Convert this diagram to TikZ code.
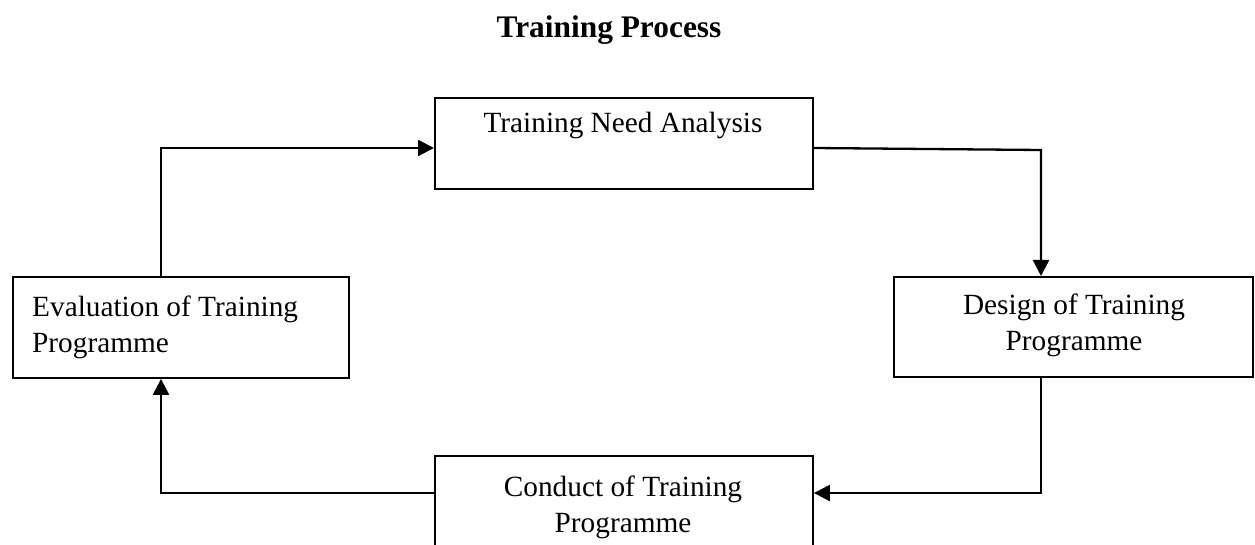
\documentclass[tikz,border=0pt]{standalone}
\usepackage{fontspec}
\setmainfont{Liberation Serif}
\usetikzlibrary{arrows.meta}
\begin{document}
\begin{tikzpicture}[x=1pt,y=-1pt,
  box/.style={draw,line width=1.9pt,inner sep=0pt,anchor=north west},
  lbl/.style={font=\fontsize{29.3}{35.5}\selectfont,inner sep=0pt,align=center,anchor=base},
  conn/.style={line width=2.3pt,line join=miter,-{Triangle[length=16pt,width=16pt]}}]
\useasboundingbox (0,0) rectangle (1255,545);
\node[font=\bfseries\fontsize{31.4}{36}\selectfont,anchor=base,inner sep=0pt] (title) at (609,38) {Training Process};
% boxes
\node[box,minimum width=378pt,minimum height=91pt] (tna) at (434,97) {};
\node[box,minimum width=359pt,minimum height=100pt] (des) at (893,276) {};
\node[box,minimum width=336pt,minimum height=101pt] (eva) at (12,276) {};
\node[box,minimum width=378pt,minimum height=110pt] (con) at (434,455) {};
% texts (base anchor = baseline of last line)
\node[lbl] (tnaT) at (623,133) {Training Need Analysis};
\node[lbl] (desT) at (1074,350) {Design of Training\\Programme};
\node[lbl,align=left,anchor=base west] (evaT) at (32,352) {Evaluation of Training\\Programme};
\node[lbl] (conT) at (623,532) {Conduct of Training\\Programme};
% bend points
\coordinate (c0) at (812,148);
\coordinate (c1) at (161,148);
\coordinate (c2) at (1041,150);
\coordinate (c3) at (1041,493);
\coordinate (c4) at (161,493);
% connectors
\draw[conn] (eva.north -| c1) -- (c1) -- (tna.west |- c1);
\draw[conn] (tna.east |- c0) -- (c2) -- (des.north -| c2);
\draw[conn] (des.south -| c3) -- (c3) -- (con.east |- c3);
\draw[conn] (con.west |- c4) -- (c4) -- (eva.south -| c4);
\end{tikzpicture}
\end{document}
